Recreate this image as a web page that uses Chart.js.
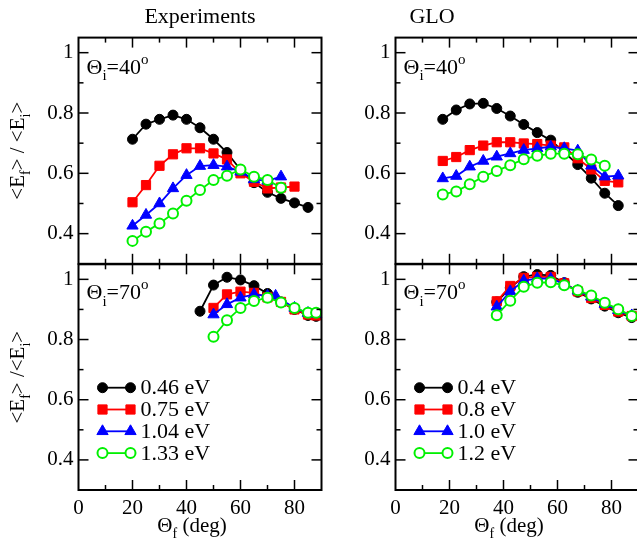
<!DOCTYPE html>
<html>
<head>
<meta charset="utf-8">
<script src="https://cdn.jsdelivr.net/npm/chart.js@4.4.1/dist/chart.umd.min.js"></script>
<style>
  html, body { margin: 0; padding: 0; background: #fff; overflow: hidden; width: 637px; height: 542px; }
  #wrap { position: relative; width: 637px; height: 542px; }
  canvas { position: absolute; left: 0; top: 0; }
</style>
</head>
<body>
<div id="wrap">
  <canvas id="tl" width="660" height="542"></canvas>
  <canvas id="tr" width="660" height="542"></canvas>
  <canvas id="bl" width="660" height="542"></canvas>
  <canvas id="br" width="660" height="542"></canvas>
</div>
<script>
// tick labels
const X_TICKS = [0, 20, 40, 60, 80];
const Y_TICKS = [0.4, 0.6, 0.8, 1.0];

// Experiments, theta_i = 40
const exp40Angle = [20, 25, 30, 35, 40, 45, 50, 55, 60, 65, 70, 75, 80, 85];
const exp40E046 = [0.713, 0.763, 0.779, 0.793, 0.779, 0.751, 0.713, 0.669, 0.612, 0.569, 0.537, 0.517, 0.502, 0.487];
const exp40E075 = [0.504, 0.561, 0.625, 0.663, 0.683, 0.683, 0.666, 0.646, 0.600, 0.572, 0.550, 0.553, 0.556];
const exp40E104 = [0.426, 0.462, 0.500, 0.550, 0.594, 0.624, 0.627, 0.622, 0.605, 0.580, 0.575, 0.589];
const exp40E133 = [0.376, 0.406, 0.434, 0.467, 0.509, 0.545, 0.578, 0.592, 0.613, 0.589, 0.578, 0.552];

// GLO, theta_i = 40
const glo40Angle = [17.5, 22.5, 27.5, 32.5, 37.5, 42.5, 47.5, 52.5, 57.5, 62.5, 67.5, 72.5, 77.5, 82.5];
const glo40E04 = [0.779, 0.810, 0.830, 0.832, 0.815, 0.790, 0.762, 0.735, 0.710, 0.670, 0.629, 0.584, 0.534, 0.493];
const glo40E08 = [0.641, 0.654, 0.677, 0.692, 0.703, 0.703, 0.699, 0.697, 0.692, 0.686, 0.650, 0.613, 0.575, 0.570];
const glo40E10 = [0.583, 0.591, 0.622, 0.641, 0.655, 0.666, 0.677, 0.683, 0.688, 0.683, 0.675, 0.625, 0.589, 0.592];
const glo40E12 = [0.530, 0.540, 0.564, 0.589, 0.608, 0.627, 0.647, 0.658, 0.665, 0.665, 0.663, 0.646, 0.625];

// Experiments, theta_i = 70
const exp70Angle046 = [45, 50, 55, 60, 65, 70, 75, 80, 85, 88];
const exp70E046 = [0.894, 0.981, 1.007, 0.998, 0.979, 0.953, 0.925, 0.900, 0.880, 0.877];
const exp70Angle075 = [50, 55, 60, 65, 70, 75, 80, 85, 88];
const exp70E075 = [0.905, 0.950, 0.959, 0.955, 0.940, 0.925, 0.900, 0.883, 0.880];
const exp70Angle104 = [50, 55, 60, 65, 70, 73, 80, 85, 88];
const exp70E104 = [0.883, 0.917, 0.939, 0.950, 0.945, 0.945, 0.905, 0.888, 0.885];
const exp70Angle133 = [50, 55, 60, 65, 70, 75, 80, 85, 88];
const exp70E133 = [0.809, 0.864, 0.905, 0.928, 0.939, 0.923, 0.905, 0.889, 0.889];

// GLO, theta_i = 70
const glo70Angle = [37.5, 42.5, 47.5, 52.5, 57.5, 62.5, 67.5, 72.5, 77.5, 82.5, 87.5];
const glo70E04 = [0.925, 0.972, 1.009, 1.016, 1.013, 0.989, 0.957, 0.935, 0.911, 0.889, 0.873];
const glo70E08 = [0.927, 0.978, 1.005, 1.008, 1.008, 0.987, 0.960, 0.938, 0.915, 0.893, 0.878];
const glo70E10 = [0.909, 0.960, 0.995, 1.003, 1.002, 0.985, 0.962, 0.942, 0.918, 0.897, 0.880];
const glo70E12 = [0.881, 0.929, 0.975, 0.989, 0.990, 0.980, 0.964, 0.946, 0.922, 0.901, 0.878];

const expLabels = ["0.46 eV", "0.75 eV", "1.04 eV", "1.33 eV"];
const gloLabels = ["0.4 eV", "0.8 eV", "1.0 eV", "1.2 eV"];

const FONT = '"Liberation Serif", "Times New Roman", serif';
const CW = 660, CH = 542;

const STYLES = [
  { color: "#000000", fill: "#000000", pointStyle: "circle", radius: 5, bw: 1 },
  { color: "#ff0000", fill: "#ff0000", pointStyle: "rect", radius: 6.5, bw: 1 },
  { color: "#0000ff", fill: "#0000ff", pointStyle: "triangle", radius: 6.5, bw: 1 },
  { color: "#00f000", fill: "#ffffff", pointStyle: "circle", radius: 5, bw: 2 },
];

function series(xs, ys, i, label) {
  const st = STYLES[i];
  return {
    label: label,
    data: ys.map((y, j) => ({ x: xs[j], y: y })),
    borderColor: st.color,
    backgroundColor: st.fill,
    pointBackgroundColor: st.fill,
    pointBorderColor: st.color,
    pointStyle: st.pointStyle,
    pointRadius: st.radius,
    pointBorderWidth: st.bw,
    borderWidth: 1.8,
    tension: 0,
    clip: false,
    order: 4 - i,
  };
}

// text with sub/superscripts: parts = [[text, 0 normal | 1 sub | 2 sup], ...]
function richWidth(ctx, parts, size) {
  let w = 0;
  parts.forEach(([t, k]) => {
    ctx.font = `${k ? Math.round(size * 0.68) : size}px ${FONT}`;
    w += ctx.measureText(t).width;
  });
  return w;
}

function drawRich(ctx, parts, x, y, size, align) {
  let cx = align === "center" ? x - richWidth(ctx, parts, size) / 2 : x;
  ctx.textAlign = "left";
  ctx.textBaseline = "alphabetic";
  parts.forEach(([t, k]) => {
    ctx.font = `${k ? Math.round(size * 0.68) : size}px ${FONT}`;
    const dy = k === 1 ? size * 0.3 : k === 2 ? -size * 0.45 : 0;
    ctx.fillText(t, cx, y + dy);
    cx += ctx.measureText(t).width;
  });
}

function line(ctx, x1, y1, x2, y2) {
  ctx.beginPath();
  ctx.moveTo(x1, y1);
  ctx.lineTo(x2, y2);
  ctx.stroke();
}

const decor = {
  id: "decor",
  afterDraw(chart) {
    const { ctx, chartArea: a, scales: { x, y } } = chart;
    const o = chart.options.plugins.decor;
    ctx.save();
    ctx.strokeStyle = "#000";
    ctx.fillStyle = "#000";
    ctx.lineWidth = 1.5;
    for (let v = 10; v < 90; v += 10) {
      const px = x.getPixelForValue(v);
      const len = v % 20 === 0 ? 10 : 5;
      line(ctx, px, a.bottom, px, a.bottom - len);
      line(ctx, px, a.top, px, a.top + len);
    }
    for (let k = 4; k <= 10; k++) {
      const py = y.getPixelForValue(k / 10);
      const len = k % 2 === 0 ? 10 : 5;
      line(ctx, a.left, py, a.left + len, py);
      line(ctx, a.right, py, a.right - len, py);
    }
    ctx.lineWidth = 2;
    ctx.strokeRect(a.left, a.top, a.right - a.left, a.bottom - a.top);

    // panel label
    drawRich(ctx, [["\u0398", 0], ["i", 1], ["=" + o.theta, 0], ["o", 2]], a.left + 8, a.top + (o.bottom ? 35 : 36), 22, "left");

    if (o.title) {
      ctx.font = `22px ${FONT}`;
      ctx.textAlign = "center";
      ctx.textBaseline = "alphabetic";
      ctx.fillText(o.title, o.titleX, 23);
    }
    if (o.ylabel) {
      ctx.save();
      ctx.translate(23.5, (a.top + a.bottom) / 2);
      ctx.rotate(-Math.PI / 2);
      drawRich(ctx, o.ylabel, 0, 0, 21, "center");
      ctx.restore();
    }
    if (o.bottom) {
      drawRich(ctx, [["\u0398", 0], ["f", 1], [" (deg)", 0]], o.xtitleX, 532, 21, "center");
      // legend
      const lx = a.left + 24;
      chart.data.datasets.forEach((ds, i) => {
        const st = STYLES[i];
        const ly = 387.7 + i * 21.8;
        ctx.strokeStyle = st.color;
        ctx.lineWidth = 1.8;
        line(ctx, lx, ly, lx + 28, ly);
        ctx.fillStyle = st.fill;
        ctx.lineWidth = st.bw;
        [lx, lx + 28].forEach(px => {
          Chart.helpers.drawPoint(ctx, { pointStyle: st.pointStyle, radius: st.radius, borderWidth: st.bw, rotation: 0 }, px, ly);
        });
        ctx.fillStyle = "#000";
        ctx.font = `22px ${FONT}`;
        ctx.textAlign = "left";
        ctx.textBaseline = "middle";
        ctx.fillText(ds.label, lx + 38, ly + 1);
      });
    }
    ctx.restore();
  },
};

function makePanel(id, box, datasets, opts) {
  const yw = 40, xh = opts.bottom ? 30 : 0;
  return new Chart(document.getElementById(id), {
    type: "line",
    data: { datasets: datasets },
    options: {
      responsive: false,
      animation: false,
      events: [],
      layout: {
        padding: {
          left: box.left - yw,
          top: box.top,
          right: CW - box.right,
          bottom: CH - box.bottom - xh,
        },
      },
      plugins: {
        legend: { display: false },
        tooltip: { enabled: false },
        decor: opts,
      },
      scales: {
        x: {
          type: "linear",
          min: 0,
          max: 90,
          display: !!opts.bottom,
          grid: { display: false, drawTicks: false },
          border: { display: false },
          afterBuildTicks: s => { s.ticks = X_TICKS.map(v => ({ value: v })); },
          afterFit: s => { s.height = xh; },
          ticks: { color: "#000", font: { family: FONT, size: 21 }, padding: 6, autoSkip: false, maxRotation: 0 },
        },
        y: {
          min: 0.3,
          max: 1.05,
          grid: { display: false, drawTicks: false },
          border: { display: false },
          afterBuildTicks: s => { s.ticks = Y_TICKS.map(v => ({ value: v })); },
          afterFit: s => { s.width = yw; },
          ticks: {
            color: "#000",
            font: { family: FONT, size: 21 },
            padding: 5,
            callback: v => (v === 1 ? "1" : v.toFixed(1)),
          },
        },
      },
    },
    plugins: [decor],
  });
}

const yTop = [["<E", 0], ["f", 1], ["> / <E", 0], ["i", 1], [">", 0]];
const yBot = [["<E", 0], ["f", 1], ["> /<E", 0], ["i", 1], [">", 0]];

makePanel("tl", { left: 78.5, right: 321.5, top: 37.6, bottom: 263.8 }, [
  series(exp40Angle, exp40E046, 0, expLabels[0]),
  series(exp40Angle, exp40E075, 1, expLabels[1]),
  series(exp40Angle, exp40E104, 2, expLabels[2]),
  series(exp40Angle, exp40E133, 3, expLabels[3]),
], { theta: "40", title: "Experiments", titleX: 200, ylabel: yTop });

makePanel("tr", { left: 395.5, right: 638.5, top: 37.6, bottom: 263.8 }, [
  series(glo40Angle, glo40E04, 0, gloLabels[0]),
  series(glo40Angle, glo40E08, 1, gloLabels[1]),
  series(glo40Angle, glo40E10, 2, gloLabels[2]),
  series(glo40Angle, glo40E12, 3, gloLabels[3]),
], { theta: "40", title: "GLO", titleX: 432 });

makePanel("bl", { left: 78.5, right: 321.5, top: 264.3, bottom: 490 }, [
  series(exp70Angle046, exp70E046, 0, expLabels[0]),
  series(exp70Angle075, exp70E075, 1, expLabels[1]),
  series(exp70Angle104, exp70E104, 2, expLabels[2]),
  series(exp70Angle133, exp70E133, 3, expLabels[3]),
], { theta: "70", bottom: true, ylabel: yBot, xtitleX: 192 });

makePanel("br", { left: 395.5, right: 638.5, top: 264.3, bottom: 490 }, [
  series(glo70Angle, glo70E04, 0, gloLabels[0]),
  series(glo70Angle, glo70E08, 1, gloLabels[1]),
  series(glo70Angle, glo70E10, 2, gloLabels[2]),
  series(glo70Angle, glo70E12, 3, gloLabels[3]),
], { theta: "70", bottom: true, xtitleX: 509 });
</script>
</body>
</html>
